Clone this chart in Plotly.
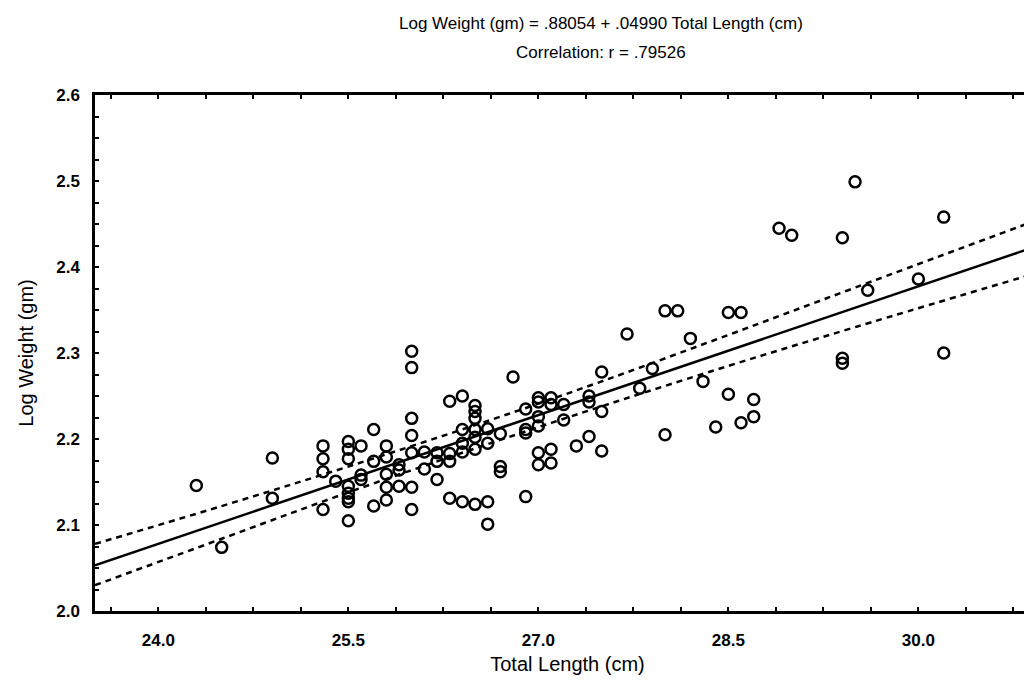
import plotly.graph_objects as go

# Regression from the chart heading
intercept = 0.88054
slope = 0.04990

# Total length (cm) and log weight (gm)
length_cm = [
    24.3, 24.5, 24.9, 24.9,
    25.3, 25.3, 25.3, 25.3, 25.4,
    25.5, 25.5, 25.5, 25.5, 25.5, 25.5, 25.5, 25.5,
    25.6, 25.6, 25.6, 25.7, 25.7, 25.7,
    25.8, 25.8, 25.8, 25.8, 25.8, 25.9, 25.9, 25.9,
    26.0, 26.0, 26.0, 26.0, 26.0, 26.0, 26.0,
    26.1, 26.1, 26.2, 26.2, 26.2,
    26.3, 26.3, 26.3, 26.3,
    26.4, 26.4, 26.4, 26.4, 26.4,
    26.5, 26.5, 26.5, 26.5, 26.5, 26.5, 26.5,
    26.6, 26.6, 26.6, 26.6, 26.7, 26.7, 26.7, 26.8,
    26.9, 26.9, 26.9, 26.9,
    27.0, 27.0, 27.0, 27.0, 27.0, 27.0,
    27.1, 27.1, 27.1, 27.1, 27.2, 27.2, 27.3,
    27.4, 27.4, 27.4, 27.5, 27.5, 27.5,
    27.7, 27.8, 27.9, 28.0, 28.0, 28.1, 28.2, 28.3, 28.4,
    28.5, 28.5, 28.6, 28.6, 28.7, 28.7,
    28.9, 29.0, 29.4, 29.4, 29.4, 29.5, 29.6, 30.0, 30.2, 30.2,
]
log_weight = [
    2.146, 2.074, 2.178, 2.131,
    2.192, 2.177, 2.162, 2.118, 2.151,
    2.197, 2.188, 2.177, 2.145, 2.137, 2.131, 2.127, 2.105,
    2.192, 2.158, 2.153, 2.211, 2.174, 2.122,
    2.192, 2.179, 2.159, 2.144, 2.129, 2.170, 2.164, 2.145,
    2.302, 2.283, 2.224, 2.204, 2.184, 2.144, 2.118,
    2.185, 2.165, 2.184, 2.174, 2.153,
    2.244, 2.183, 2.174, 2.131,
    2.250, 2.211, 2.195, 2.185, 2.127,
    2.239, 2.232, 2.224, 2.211, 2.202, 2.188, 2.124,
    2.212, 2.195, 2.127, 2.101, 2.206, 2.168, 2.162, 2.272,
    2.235, 2.211, 2.207, 2.133,
    2.248, 2.243, 2.226, 2.215, 2.184, 2.170,
    2.248, 2.240, 2.188, 2.172, 2.240, 2.222, 2.192,
    2.250, 2.243, 2.203, 2.278, 2.232, 2.186,
    2.322, 2.259, 2.282, 2.349, 2.205, 2.349, 2.317, 2.267, 2.214,
    2.347, 2.252, 2.347, 2.219, 2.246, 2.226,
    2.445, 2.437, 2.434, 2.294, 2.288, 2.499, 2.373, 2.386, 2.458, 2.300,
]

# 95% confidence band around the fit, read at a few lengths
band_x = [23.5, 24.5, 25.5, 26.6, 27.5, 28.5, 29.5, 31.0]
band_upper = [2.078, 2.122, 2.168, 2.221, 2.267, 2.321, 2.376, 2.458]
band_lower = [2.030, 2.084, 2.138, 2.194, 2.238, 2.285, 2.330, 2.396]

x_min, x_max = 23.5, 30.96
fit_x = [x_min, x_max]
fit_y = [intercept + slope * v for v in fit_x]

font = "Liberation Sans, Arial, sans-serif"
dash_line = dict(color="black", width=2.5, dash="6px,5px")

fig = go.Figure()
fig.add_trace(go.Scatter(x=band_x, y=band_upper, mode="lines", line_shape="spline", line=dash_line))
fig.add_trace(go.Scatter(x=band_x, y=band_lower, mode="lines", line_shape="spline", line=dash_line))
fig.add_trace(go.Scatter(x=fit_x, y=fit_y, mode="lines",
                         line=dict(color="black", width=2.5)))
fig.add_trace(go.Scatter(x=length_cm, y=log_weight, mode="markers",
                         marker=dict(symbol="circle-open", size=11, color="black",
                                     line=dict(width=2.5, color="black"))))

fig.update_layout(
    width=1032, height=684,
    margin=dict(l=87, r=0, t=87, b=81),
    paper_bgcolor="white", plot_bgcolor="white",
    showlegend=False,
    font=dict(family=font, size=17, color="black"),
    annotations=[
        dict(text="Log Weight (gm) = .88054 + .04990 Total Length (cm)",
             xref="paper", yref="paper", x=0.535, y=1.0, yanchor="middle", yshift=72,
             showarrow=False, font=dict(size=17)),
        dict(text="Correlation: r = .79526",
             xref="paper", yref="paper", x=0.535, y=1.0, yanchor="middle", yshift=43,
             showarrow=False, font=dict(size=17)),
    ],
)
tick_font = dict(family=font, size=17, color="black", weight="bold")
fig.update_xaxes(
    range=[x_min, x_max], tick0=24.0, dtick=1.5, tickformat=".1f", tickfont=tick_font,
    ticks="inside", ticklen=4, tickwidth=1.5, tickcolor="black",
    minor=dict(tick0=24.0, dtick=0.375, ticks="inside", ticklen=4, tickwidth=1.5, tickcolor="black"),
    showline=True, linewidth=2.5, linecolor="black", mirror="ticks",
    showgrid=False, zeroline=False, ticklabelstandoff=12,
    title=dict(text="Total Length (cm)", standoff=8),
)
fig.update_yaxes(
    range=[2.0, 2.6], tick0=2.0, dtick=0.1, tickformat=".1f", tickfont=tick_font,
    ticks="inside", ticklen=4, tickwidth=1.5, tickcolor="black",
    minor=dict(tick0=2.0, dtick=0.025, ticks="inside", ticklen=4, tickwidth=1.5, tickcolor="black"),
    showline=True, linewidth=2.5, linecolor="black", mirror=False,
    showgrid=False, zeroline=False, ticklabelstandoff=9,
    title=dict(text="Log Weight (gm)", standoff=18),
)

fig.write_html("out.html")
